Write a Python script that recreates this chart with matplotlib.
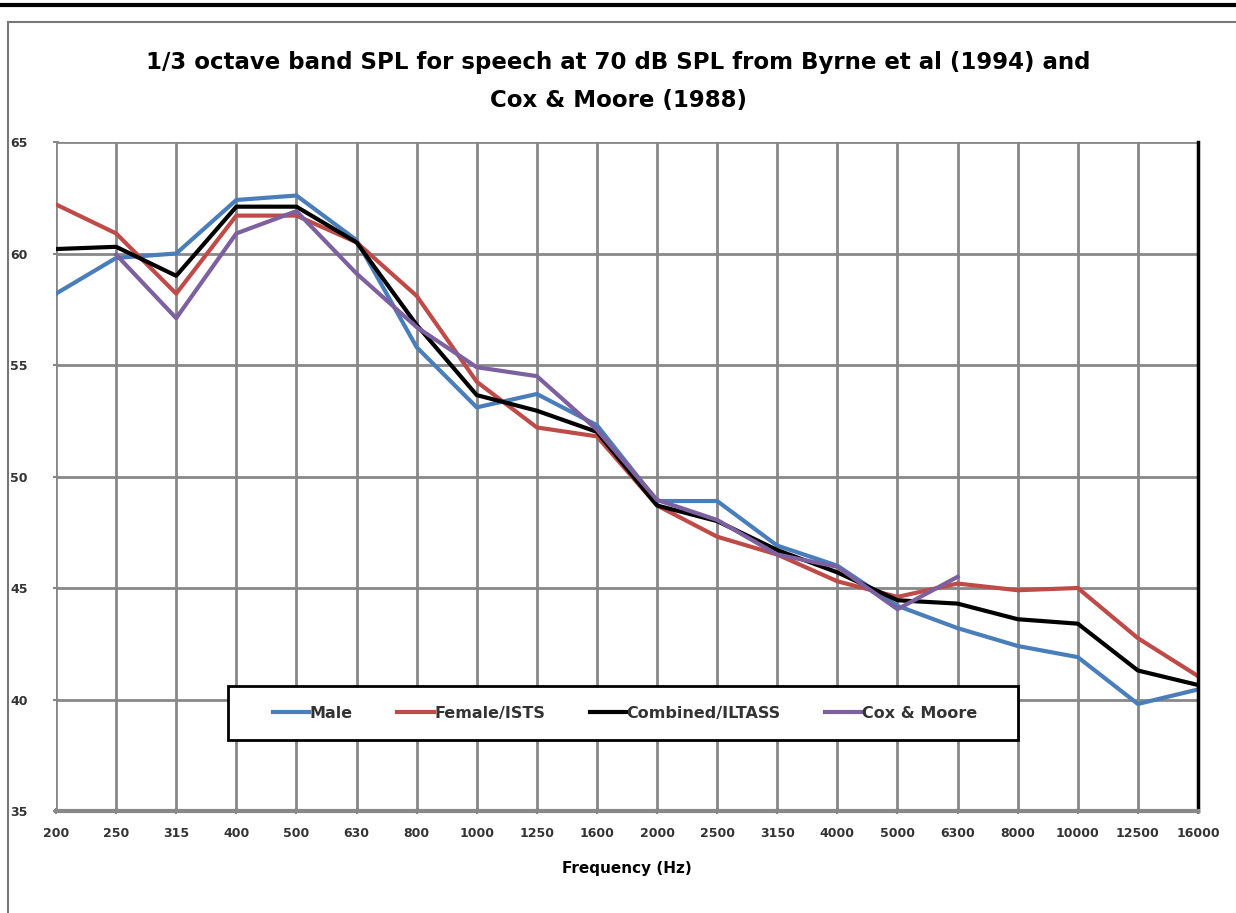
import matplotlib
matplotlib.use("Agg")
import matplotlib.pyplot as plt
from matplotlib.lines import Line2D
from matplotlib.patches import Rectangle

freqs = ["200", "250", "315", "400", "500", "630", "800", "1000", "1250", "1600",
         "2000", "2500", "3150", "4000", "5000", "6300", "8000", "10000", "12500", "16000"]

male = [58.2, 59.8, 60.0, 62.4, 62.6, 60.6, 55.8, 53.1, 53.7, 52.3,
        48.9, 48.9, 46.9, 46.0, 44.2, 43.2, 42.4, 41.9, 39.8, 40.45]
female = [62.2, 60.9, 58.2, 61.7, 61.7, 60.5, 58.1, 54.25, 52.2, 51.8,
          48.7, 47.3, 46.5, 45.3, 44.6, 45.2, 44.9, 45.0, 42.75, 41.05]
combined = [60.2, 60.3, 59.0, 62.1, 62.1, 60.5, 56.8, 53.65, 52.95, 52.0,
            48.7, 48.0, 46.7, 45.7, 44.45, 44.3, 43.6, 43.4, 41.3, 40.65]
cox_moore = [None, 59.95, 57.1, 60.9, 61.9, 59.1, 56.7, 54.9, 54.5, 52.1,
             48.95, 48.05, 46.5, 45.95, 44.05, 45.5]

colors = {"male": "#4A7EBB", "female": "#BE4B48", "combined": "#000000", "cox": "#7D60A0"}

fig = plt.figure(figsize=(12.36, 9.13), dpi=100)
ax = fig.add_axes([56/1236, 1-811/913, (1198-56)/1236, (811-142)/913])

x = list(range(len(freqs)))
ax.plot(x, male, color=colors["male"], lw=3, label="Male")
ax.plot(x, female, color=colors["female"], lw=3, label="Female/ISTS")
ax.plot(x, combined, color=colors["combined"], lw=3, label="Combined/ILTASS")
xc = [i for i, v in enumerate(cox_moore) if v is not None]
yc = [v for v in cox_moore if v is not None]
ax.plot(xc, yc, color=colors["cox"], lw=3, label="Cox & Moore")

ax.set_xlim(0, len(freqs) - 1)
ax.set_ylim(35, 65)
ax.set_yticks([35, 40, 45, 50, 55, 60, 65])
ax.set_xticks(x)
ax.set_xticklabels(freqs)
ax.grid(True, color="#888888", lw=2)
ax.set_axisbelow(True)
for s in ["left", "top"]:
    ax.spines[s].set_visible(False)
ax.spines["bottom"].set_color("#888888")
ax.spines["bottom"].set_linewidth(3)
ax.spines["right"].set_color("black")
ax.spines["right"].set_linewidth(2.5)
ax.tick_params(axis="both", labelsize=9, colors="#888888", labelcolor="#333333",
               length=5, width=1.5, direction="inout")
ax.tick_params(axis="x", pad=9)
ax.tick_params(axis="y", pad=18)
for lab in ax.get_xticklabels() + ax.get_yticklabels():
    lab.set_fontweight("bold")
ax.set_xlabel("Frequency (Hz)", fontsize=11, fontweight="bold", labelpad=15)

# legend box (drawn separately so it can be wider than its entries)
bx0, bx1, by0, by1 = (228-56)/1142, (1018-56)/1142, (811-740)/669, (811-686)/669
ax.add_patch(Rectangle((bx0, by0), bx1-bx0, by1-by0, transform=ax.transAxes,
                       facecolor="white", edgecolor="black", lw=2, zorder=5))
leg = ax.legend(loc="center", bbox_to_anchor=((625-56)/1142, (by0+by1)/2),
                ncol=4, frameon=False, fontsize=11.5, handlelength=2.3,
                handletextpad=0.0, columnspacing=2.8, borderaxespad=0)
leg.set_zorder(6)
for t in leg.get_texts():
    t.set_fontweight("bold")
    t.set_color("#333333")

fig.text(0.5, 1-62/913, "1/3 octave band SPL for speech at 70 dB SPL from Byrne et al (1994) and",
         ha="center", va="center", fontsize=16.5, fontweight="bold")
fig.text(0.5, 1-100/913, "Cox & Moore (1988)", ha="center", va="center", fontsize=16.5, fontweight="bold")

# outer frame of the original chart
fig.add_artist(Line2D([0, 1], [1-5/913, 1-5/913], color="black", lw=3, transform=fig.transFigure))
fig.add_artist(Line2D([8/1236, 1], [1-22/913, 1-22/913], color="#777777", lw=1.5, transform=fig.transFigure))
fig.add_artist(Line2D([8/1236, 8/1236], [0, 1-22/913], color="#777777", lw=1.5, transform=fig.transFigure))

fig.savefig("out.png", dpi=100)
